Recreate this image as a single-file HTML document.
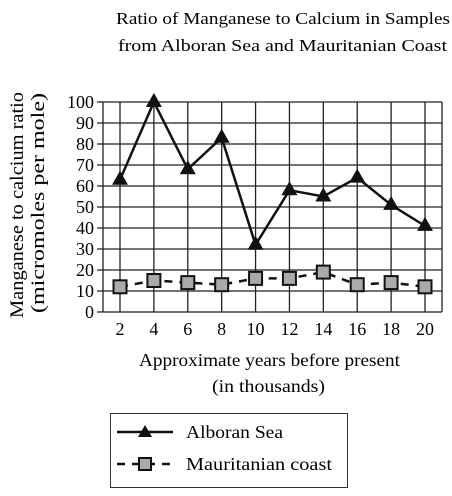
<!DOCTYPE html>
<html><head><meta charset="utf-8"><style>
body{margin:0;background:#fff}
svg{display:block;font-family:"Liberation Serif",serif;}
</style></head><body>
<svg id="c" width="452" height="496">
<text x="116" y="24" font-size="17" textLength="334" lengthAdjust="spacingAndGlyphs">Ratio of Manganese to Calcium in Samples</text>
<text x="118" y="51" font-size="17" textLength="329" lengthAdjust="spacingAndGlyphs">from Alboran Sea and Mauritanian Coast</text>
<text x="139" y="366" font-size="18" textLength="261" lengthAdjust="spacingAndGlyphs">Approximate years before present</text>
<text x="212" y="392" font-size="18" textLength="113" lengthAdjust="spacingAndGlyphs">(in thousands)</text>
<text transform="translate(23,318) rotate(-90)" font-size="19" textLength="226" lengthAdjust="spacingAndGlyphs">Manganese to calcium ratio</text>
<text transform="translate(44,313) rotate(-90)" font-size="19" textLength="220" lengthAdjust="spacingAndGlyphs">(micromoles per mole)</text>
<g id="grid"></g><g id="series"></g>
<g>
<rect x="110.5" y="413.5" width="237" height="74" fill="none" stroke="#333" stroke-width="1"/>
<line x1="117" y1="432" x2="173" y2="432" stroke="#111" stroke-width="2.5"/>
<polygon points="145,425 152,437 138,437" fill="#111"/>
<text x="186" y="438" font-size="18" textLength="97" lengthAdjust="spacingAndGlyphs">Alboran Sea</text>
<line x1="117" y1="464" x2="173" y2="464" stroke="#111" stroke-width="2.5" stroke-dasharray="8,7"/>
<rect x="139" y="458" width="12" height="12" fill="#aaa" stroke="#111" stroke-width="2"/>
<text x="186" y="470" font-size="18" textLength="146" lengthAdjust="spacingAndGlyphs">Mauritanian coast</text>
</g>
</svg>
<script>
const years=[2,4,6,8,10,12,14,16,18,20];
const alboran=[63,100,68,83,32,58,55,64,51,41];
const mauritanian=[12,15,14,13,16,16,19,13,14,12];
const yTicks=[0,10,20,30,40,50,60,70,80,90,100];
const NS="http://www.w3.org/2000/svg";
const xs=v=>120+(v-2)*(305/18);
const ys=v=>312-v*2.1;
function mk(t,a,p){const e=document.createElementNS(NS,t);for(const k in a)e.setAttribute(k,a[k]);p.appendChild(e);return e;}
const g=document.getElementById('grid'),s=document.getElementById('series');
yTicks.forEach(t=>{
 const l=mk('line',{x1:97,x2:442,y1:ys(t),y2:ys(t),stroke:'#222','stroke-width':1.3},g);
 
 
 const tx=mk('text',{x:94,y:ys(t)+6,'font-size':18,'text-anchor':'end'},g);tx.textContent=t;
 
 
});
mk('line',{x1:103,x2:103,y1:ys(100),y2:ys(0),stroke:'#222','stroke-width':1.3},g);
mk('line',{x1:442,x2:442,y1:ys(100),y2:ys(0),stroke:'#222','stroke-width':1.3},g);
years.forEach(v=>{
 const l=mk('line',{x1:xs(v),x2:xs(v),y1:ys(100),y2:ys(0),stroke:'#222','stroke-width':1.3},g);
 
 
 const tx=mk('text',{x:xs(v),y:335,'font-size':18,'text-anchor':'middle'},g);tx.textContent=v;
 
 
});
const pa=mk('polyline',{points:years.map((v,i)=>xs(v)+','+ys(alboran[i])).join(' '),fill:'none',stroke:'#111','stroke-width':2.5},s);


const pm=mk('polyline',{points:years.map((v,i)=>xs(v)+','+ys(mauritanian[i])).join(' '),fill:'none',stroke:'#111','stroke-width':2.5,'stroke-dasharray':'8,7'},s);


years.forEach((v,i)=>{
 const x=xs(v),y=ys(alboran[i]);
 const t=mk('polygon',{points:`${x},${y-9} ${x+8},${y+5} ${x-8},${y+5}`,fill:'#111'},s);
 
 
 const y2=ys(mauritanian[i]);
 const r=mk('rect',{x:x-6.5,y:y2-6.5,width:13,height:13,fill:'#aaa',stroke:'#111','stroke-width':2},s);
 
 
});
</script>
</body></html>
